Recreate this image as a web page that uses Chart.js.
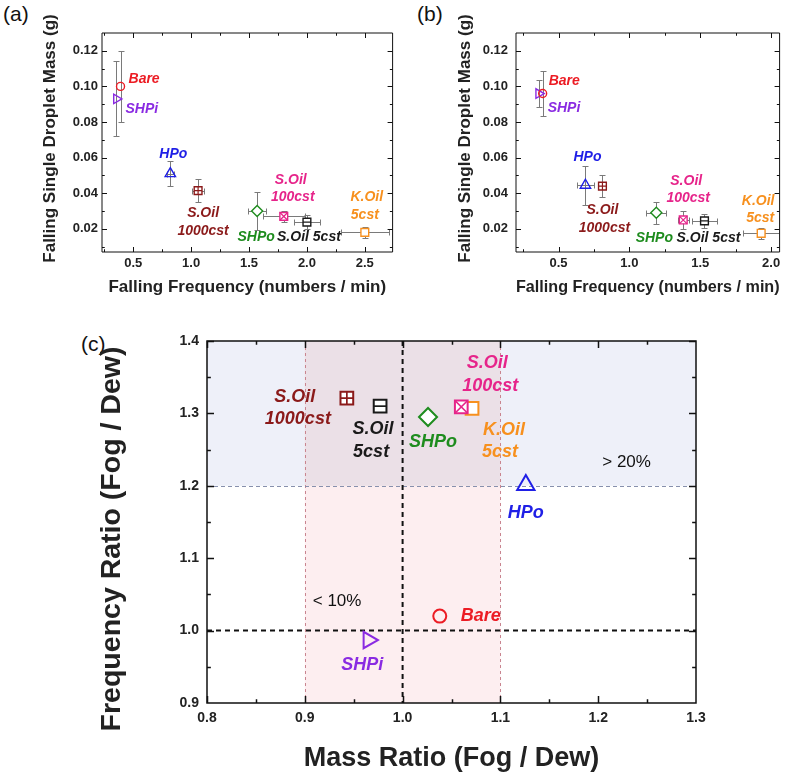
<!DOCTYPE html>
<html><head><meta charset="utf-8">
<script src="https://cdn.jsdelivr.net/npm/chart.js@4.4.1/dist/chart.umd.min.js"></script>
<style>
html,body{margin:0;padding:0;background:#fff;width:787px;height:776px;overflow:hidden;position:relative;}
canvas{position:absolute;}
.pl{position:absolute;font-family:'Liberation Sans',Arial,sans-serif;font-size:21px;color:#111;line-height:24px;}
</style></head><body>
<div class="pl" style="left:3px;top:2px">(a)</div>
<div class="pl" style="left:417px;top:2px">(b)</div>
<div class="pl" style="left:81px;top:332px">(c)</div>
<canvas id="ca" width="400" height="310" style="left:0;top:0"></canvas>
<canvas id="cb" width="387" height="310" style="left:400px;top:0"></canvas>
<canvas id="cc" width="707" height="456" style="left:80px;top:320px"></canvas>
<script>
const FONT = "'Liberation Sans', Arial, Helvetica, sans-serif";

// ---- series ----
const seriesNames = ['Bare', 'SHPi', 'HPo', 'S.Oil 1000cst', 'SHPo', 'S.Oil 100cst', 'S.Oil 5cst', 'K.Oil 5cst'];

// ---- panel (a): dew condition ----
const freqA    = [0.39, 0.355, 0.82, 1.06, 1.57, 1.80, 2.00, 2.50];
const massA    = [0.100, 0.093, 0.051, 0.0415, 0.030, 0.027, 0.0238, 0.018];
const freqErrA = [0, 0, 0.03, 0.05, 0.08, 0.18, 0.11, 0.21];
const massErrA = [0.020, 0.021, 0.007, 0.0065, 0.0105, 0.003, 0.004, 0.003];

// ---- panel (b): fog condition ----
const freqB    = [0.388, 0.36, 0.69, 0.81, 1.19, 1.38, 1.53, 1.93];
const massB    = [0.096, 0.096, 0.0445, 0.044, 0.029, 0.025, 0.0245, 0.0175];
const freqErrB = [0, 0, 0.06, 0.02, 0.07, 0.04, 0.09, 0.13];
const massErrB = [0.0125, 0.0075, 0.011, 0.006, 0.006, 0.005, 0.004, 0.003];

// ---- panel (c): ratios fog / dew ----
const massRatio = [1.038, 0.965, 1.126, 0.943, 1.026, 1.060, 0.977, 1.071];
const freqRatio = [1.020, 0.987, 1.201, 1.321, 1.295, 1.309, 1.310, 1.307];
const massBand = [0.9, 1.1];   // < 10%
const freqBand = [1.2, 1.4];   // > 20%
const refMass = 1.0;
const refFreq = 1.0;

// ---- tick values ----
const xTicksA = [0.5, 1.0, 1.5, 2.0, 2.5];
const xMinorA = [0.25, 0.75, 1.25, 1.75, 2.25];
const xTicksB = [0.5, 1.0, 1.5, 2.0];
const xMinorB = [0.25, 0.75, 1.25, 1.75];
const yTicksAB = [0.02, 0.04, 0.06, 0.08, 0.10, 0.12];
const yMinorAB = [0.01, 0.03, 0.05, 0.07, 0.09, 0.11];
const xTicksC = [0.8, 0.9, 1.0, 1.1, 1.2, 1.3];
const xMinorC = [0.85, 0.95, 1.05, 1.15, 1.25];
const yTicksC = [0.9, 1.0, 1.1, 1.2, 1.3, 1.4];
const yMinorC = [0.95, 1.05, 1.15, 1.25, 1.35];

// ---- styles ----
const seriesColors = ['#ec1c24', '#8a2be2', '#1f1fe6', '#8b1a1a', '#1e8c1e', '#e6248a', '#1a1a1a', '#f7901e'];
const markerShapes = ['circle', 'triangle', 'triangle', 'rect', 'rectRot', 'rect', 'rect', 'rect'];
const markerRotations = [0, 90, 0, 0, 0, 0, 0, 0];
const markerInner = [null, null, null, 'cross', null, 'crossRot', 'line', null];
const markerFill = ['rgba(255,255,255,0)', 'rgba(255,255,255,0)', 'rgba(255,255,255,0)', '#fff', '#fff', '#fff', '#fff', '#fff'];
const radiusAB = [4, 5.5, 6, 5.5, 5.5, 5.5, 5.5, 5.5];
const radiusC = [6.5, 9.5, 10, 9, 9, 9, 9, 9];

// label placement (pixel offsets from each marker)
const labelLayoutA = [
  {s:0, t:'Bare', dx:8, dy:-7, al:'left'},
  {s:1, t:'SHPi', dx:9, dy:10, al:'left'},
  {s:2, t:'HPo', dx:3, dy:-20},
  {s:3, t:'S.Oil', dx:5, dy:23}, {s:3, t:'1000cst', dx:5, dy:41},
  {s:4, t:'SHPo', dx:-1, dy:26},
  {s:5, t:'S.Oil', dx:7, dy:-36}, {s:5, t:'100cst', dx:9, dy:-19},
  {s:6, t:'S.Oil 5cst', dx:2, dy:15},
  {s:7, t:'K.Oil', dx:2, dy:-35}, {s:7, t:'5cst', dx:0, dy:-17}
];
const labelLayoutB = [
  {s:0, t:'Bare', dx:6, dy:-12, al:'left'},
  {s:1, t:'SHPi', dx:9, dy:15, al:'left'},
  {s:2, t:'HPo', dx:2, dy:-28},
  {s:3, t:'S.Oil', dx:0, dy:24}, {s:3, t:'1000cst', dx:2, dy:42},
  {s:4, t:'SHPo', dx:-2, dy:25},
  {s:5, t:'S.Oil', dx:3, dy:-39}, {s:5, t:'100cst', dx:5, dy:-22},
  {s:6, t:'S.Oil 5cst', dx:4, dy:17},
  {s:7, t:'K.Oil', dx:-3, dy:-32}, {s:7, t:'5cst', dx:-1, dy:-15}
];
const labelLayoutC = [
  {s:0, t:'Bare', dx:21, dy:0, al:'left'},
  {s:1, t:'SHPi', dx:-6, dy:25},
  {s:2, t:'HPo', dx:0, dy:28},
  {s:3, t:'S.Oil', dx:-52, dy:-1}, {s:3, t:'1000cst', dx:-49, dy:21},
  {s:4, t:'SHPo', dx:5, dy:25},
  {s:5, t:'S.Oil', dx:26, dy:-44}, {s:5, t:'100cst', dx:29, dy:-21},
  {s:6, t:'S.Oil', dx:-7, dy:23}, {s:6, t:'5cst', dx:-9, dy:46},
  {s:7, t:'K.Oil', dx:32, dy:22}, {s:7, t:'5cst', dx:28, dy:44}
];
const bandNotes = [
  {t:'> 20%', x:1.229, y:1.233},
  {t:'< 10%', x:0.933, y:1.041}
];

function makePanel(id, cfg) {
  const datasets = [];
  seriesNames.forEach((name, i) => {
    const r = cfg.radius[i];
    datasets.push({
      label: name, data: [{x: cfg.xs[i], y: cfg.ys[i]}], showLine: false, order: 1,
      pointStyle: markerShapes[i], pointRotation: markerRotations[i], pointRadius: r,
      pointBorderColor: seriesColors[i], pointBackgroundColor: markerFill[i], pointBorderWidth: cfg.mlw
    });
    if (markerInner[i]) {
      const ir = markerInner[i] === 'crossRot' ? r : r * Math.SQRT1_2;
      datasets.push({
        label: name + ' inner', data: [{x: cfg.xs[i], y: cfg.ys[i]}], showLine: false, order: 0,
        pointStyle: markerInner[i], pointRadius: ir, pointBorderColor: seriesColors[i],
        pointBackgroundColor: seriesColors[i], pointBorderWidth: cfg.mlw * 0.85
      });
    }
  });

  const bgPlugin = {
    id: 'bg',
    beforeDatasetsDraw(chart) { if (cfg.bands) cfg.bands(chart); }
  };
  const errPlugin = {
    id: 'err',
    beforeDatasetsDraw(chart) {
      if (!cfg.xErr) return;
      const {ctx, chartArea: a, scales: {x, y}} = chart;
      ctx.save();
      ctx.beginPath(); ctx.rect(a.left, a.top, a.right - a.left, a.bottom - a.top); ctx.clip();
      ctx.strokeStyle = '#7a7a7a'; ctx.lineWidth = 1;
      const cap = 3;
      seriesNames.forEach((n, i) => {
        const px = Math.round(x.getPixelForValue(cfg.xs[i])) + 0.5;
        const py = Math.round(y.getPixelForValue(cfg.ys[i])) + 0.5;
        ctx.beginPath();
        if (cfg.yErr[i] > 0) {
          const y1 = Math.round(y.getPixelForValue(cfg.ys[i] - cfg.yErr[i])) + 0.5;
          const y2 = Math.round(y.getPixelForValue(cfg.ys[i] + cfg.yErr[i])) + 0.5;
          ctx.moveTo(px, y1); ctx.lineTo(px, y2);
          ctx.moveTo(px - cap, y1); ctx.lineTo(px + cap, y1);
          ctx.moveTo(px - cap, y2); ctx.lineTo(px + cap, y2);
        }
        if (cfg.xErr[i] > 0) {
          const x1 = Math.round(x.getPixelForValue(cfg.xs[i] - cfg.xErr[i])) + 0.5;
          const x2 = Math.round(x.getPixelForValue(cfg.xs[i] + cfg.xErr[i])) + 0.5;
          ctx.moveTo(x1, py); ctx.lineTo(x2, py);
          ctx.moveTo(x1, py - cap); ctx.lineTo(x1, py + cap);
          ctx.moveTo(x2, py - cap); ctx.lineTo(x2, py + cap);
        }
        ctx.stroke();
      });
      ctx.restore();
    }
  };
  const labelPlugin = {
    id: 'labels',
    afterDatasetsDraw(chart) {
      const {ctx, scales: {x, y}} = chart;
      ctx.save();
      ctx.font = 'italic bold ' + cfg.labelSize + 'px ' + FONT;
      ctx.textBaseline = 'middle';
      cfg.labels.forEach(L => {
        const px = x.getPixelForValue(cfg.xs[L.s]) + L.dx;
        const py = y.getPixelForValue(cfg.ys[L.s]) + L.dy;
        ctx.fillStyle = seriesColors[L.s];
        ctx.textAlign = L.al || 'center';
        ctx.fillText(L.t, px, py);
      });
      if (cfg.notes) {
        ctx.font = 'normal ' + cfg.noteSize + 'px ' + FONT;
        ctx.fillStyle = '#111'; ctx.textAlign = 'center';
        cfg.notes.forEach(N => ctx.fillText(N.t, x.getPixelForValue(N.x), y.getPixelForValue(N.y)));
      }
      ctx.restore();
    }
  };
  const framePlugin = {
    id: 'frame',
    afterDraw(chart) {
      const {ctx, chartArea: a, scales: {x, y}} = chart;
      ctx.save();
      ctx.strokeStyle = '#111'; ctx.lineWidth = cfg.frameW;
      ctx.beginPath();
      const tick = (v, len, horiz) => {
        if (horiz) {
          const p = Math.round(x.getPixelForValue(v)) + 0.5;
          if (p < a.left || p > a.right) return;
          ctx.moveTo(p, a.bottom); ctx.lineTo(p, a.bottom - len);
          ctx.moveTo(p, a.top); ctx.lineTo(p, a.top + len);
        } else {
          const p = Math.round(y.getPixelForValue(v)) + 0.5;
          if (p < a.top || p > a.bottom) return;
          ctx.moveTo(a.left, p); ctx.lineTo(a.left + len, p);
          ctx.moveTo(a.right, p); ctx.lineTo(a.right - len, p);
        }
      };
      cfg.xMajor.forEach(v => tick(v, cfg.tickLen, true));
      cfg.xMinor.forEach(v => tick(v, cfg.tickLen * 0.55, true));
      cfg.yMajor.forEach(v => tick(v, cfg.tickLen, false));
      cfg.yMinor.forEach(v => tick(v, cfg.tickLen * 0.55, false));
      ctx.stroke();
      ctx.beginPath();
      ctx.rect(a.left, a.top, a.right - a.left, a.bottom - a.top);
      ctx.stroke();
      ctx.restore();
    }
  };

  const tickFont = {family: FONT, size: cfg.tickSize, weight: 'bold'};
  return new Chart(document.getElementById(id), {
    type: 'scatter',
    data: {datasets},
    plugins: [bgPlugin, errPlugin, labelPlugin, framePlugin],
    options: {
      responsive: false, animation: false, events: [],
      layout: {padding: {left: 0, right: cfg.padR, top: cfg.padT, bottom: 0}},
      plugins: {legend: {display: false}, tooltip: {enabled: false}},
      scales: {
        x: {
          type: 'linear', position: 'bottom', min: cfg.xMin, max: cfg.xMax,
          afterBuildTicks: s => { s.ticks = cfg.xMajor.map(v => ({value: v})); },
          afterFit: s => { s.height = cfg.xAxisH; },
          grid: {display: false, drawTicks: false}, border: {display: false},
          ticks: {autoSkip: false, maxRotation: 0, padding: cfg.xTickPad, color: '#222', font: tickFont,
                  callback: v => Number(v).toFixed(cfg.xDec)},
          title: {display: true, text: cfg.xTitle, color: '#222',
                  font: {family: FONT, size: cfg.xTitleSize, weight: 'bold', lineHeight: 1},
                  padding: {top: 0, bottom: cfg.xTitlePad}}
        },
        y: {
          type: 'linear', position: 'left', min: cfg.yMin, max: cfg.yMax,
          afterBuildTicks: s => { s.ticks = cfg.yMajor.map(v => ({value: v})); },
          afterFit: s => {
            s.width = cfg.yAxisW;
            if (cfg.yTitleShift && !s._titleShifted) {
              const orig = s.drawTitle.bind(s);
              s.drawTitle = function () {
                const c = this.ctx; c.save(); c.translate(0, cfg.yTitleShift); orig(); c.restore();
              };
              s._titleShifted = true;
            }
          },
          grid: {display: false, drawTicks: false}, border: {display: false},
          ticks: {autoSkip: false, padding: cfg.yTickPad, color: '#222', font: tickFont,
                  callback: v => Number(v).toFixed(cfg.yDec)},
          title: {display: true, text: cfg.yTitle, color: '#222',
                  font: {family: FONT, size: cfg.yTitleSize, weight: 'bold', lineHeight: 1},
                  padding: {top: cfg.yTitlePad, bottom: 0}}
        }
      }
    }
  });
}

makePanel('ca', {
  xs: freqA, ys: massA, xErr: freqErrA, yErr: massErrA,
  xMin: 0.23, xMax: 2.74, yMin: 0.007, yMax: 0.130,
  xMajor: xTicksA, xMinor: xMinorA, yMajor: yTicksAB, yMinor: yMinorAB, xDec: 1, yDec: 2,
  padR: 4, padT: 33, xAxisH: 58, yAxisW: 102, xTickPad: 4, yTickPad: 4,
  tickSize: 13, xTitleSize: 17, yTitleSize: 17, xTitlePad: 14.5, yTitlePad: 41.5, yTitleShift: -4,
  xTitle: 'Falling Frequency (numbers / min)', yTitle: 'Falling Single Droplet Mass (g)',
  radius: radiusAB, mlw: 1.4, labels: labelLayoutA, labelSize: 14, frameW: 1, tickLen: 5
});

makePanel('cb', {
  xs: freqB, ys: massB, xErr: freqErrB, yErr: massErrB,
  xMin: 0.2, xMax: 2.06, yMin: 0.007, yMax: 0.130,
  xMajor: xTicksB, xMinor: xMinorB, yMajor: yTicksAB, yMinor: yMinorAB, xDec: 1, yDec: 2,
  padR: 4, padT: 33, xAxisH: 58, yAxisW: 116, xTickPad: 4, yTickPad: 8,
  tickSize: 13, xTitleSize: 17, yTitleSize: 17, xTitlePad: 14.5, yTitlePad: 56.5, yTitleShift: -4,
  xTitle: 'Falling Frequency (numbers / min)', yTitle: 'Falling Single Droplet Mass (g)',
  radius: radiusAB, mlw: 1.4, labels: labelLayoutB, labelSize: 14, frameW: 1, tickLen: 5
});

makePanel('cc', {
  xs: massRatio, ys: freqRatio, xErr: null, yErr: null,
  xMin: 0.8, xMax: 1.3, yMin: 0.9, yMax: 1.4,
  xMajor: xTicksC, xMinor: xMinorC, yMajor: yTicksC, yMinor: yMinorC, xDec: 1, yDec: 1,
  padR: 91, padT: 21, xAxisH: 73, yAxisW: 127, xTickPad: 7, yTickPad: 8,
  tickSize: 14, xTitleSize: 27, yTitleSize: 28.5, xTitlePad: 3.5, yTitlePad: 17.5, yTitleShift: 17,
  xTitle: 'Mass Ratio (Fog / Dew)', yTitle: 'Frequency Ratio (Fog / Dew)',
  radius: radiusC, mlw: 2, labels: labelLayoutC, labelSize: 18, frameW: 1.5, tickLen: 7,
  notes: bandNotes, noteSize: 17,
  bands: chart => {
    const {ctx, chartArea: a, scales: {x, y}} = chart;
    const mx0 = x.getPixelForValue(massBand[0]), mx1 = x.getPixelForValue(massBand[1]);
    const fy0 = y.getPixelForValue(freqBand[0]), fy1 = y.getPixelForValue(freqBand[1]);
    ctx.save();
    ctx.fillStyle = '#eef0f9';
    ctx.fillRect(a.left, fy1, a.right - a.left, fy0 - fy1);
    ctx.fillStyle = '#fdeef0';
    ctx.fillRect(mx0, a.top, mx1 - mx0, a.bottom - a.top);
    ctx.fillStyle = '#ebe0e7';
    ctx.fillRect(mx0, fy1, mx1 - mx0, fy0 - fy1);
    ctx.lineWidth = 1;
    ctx.setLineDash([3, 3]);
    ctx.strokeStyle = '#c98590';
    ctx.beginPath();
    [mx0, mx1].forEach(p => { const q = Math.round(p) + 0.5; ctx.moveTo(q, a.top); ctx.lineTo(q, a.bottom); });
    ctx.stroke();
    ctx.strokeStyle = '#8790ad';
    ctx.setLineDash([4, 3]);
    ctx.beginPath();
    const qy = Math.round(fy0) + 0.5;
    ctx.moveTo(a.left, qy); ctx.lineTo(a.right, qy);
    ctx.stroke();
    ctx.strokeStyle = '#111'; ctx.lineWidth = 2; ctx.setLineDash([5, 4]);
    ctx.beginPath();
    const rx = x.getPixelForValue(refMass), ry = y.getPixelForValue(refFreq);
    ctx.moveTo(rx, a.top); ctx.lineTo(rx, a.bottom);
    ctx.moveTo(a.left, ry); ctx.lineTo(a.right, ry);
    ctx.stroke();
    ctx.restore();
  }
});
</script>
</body></html>
